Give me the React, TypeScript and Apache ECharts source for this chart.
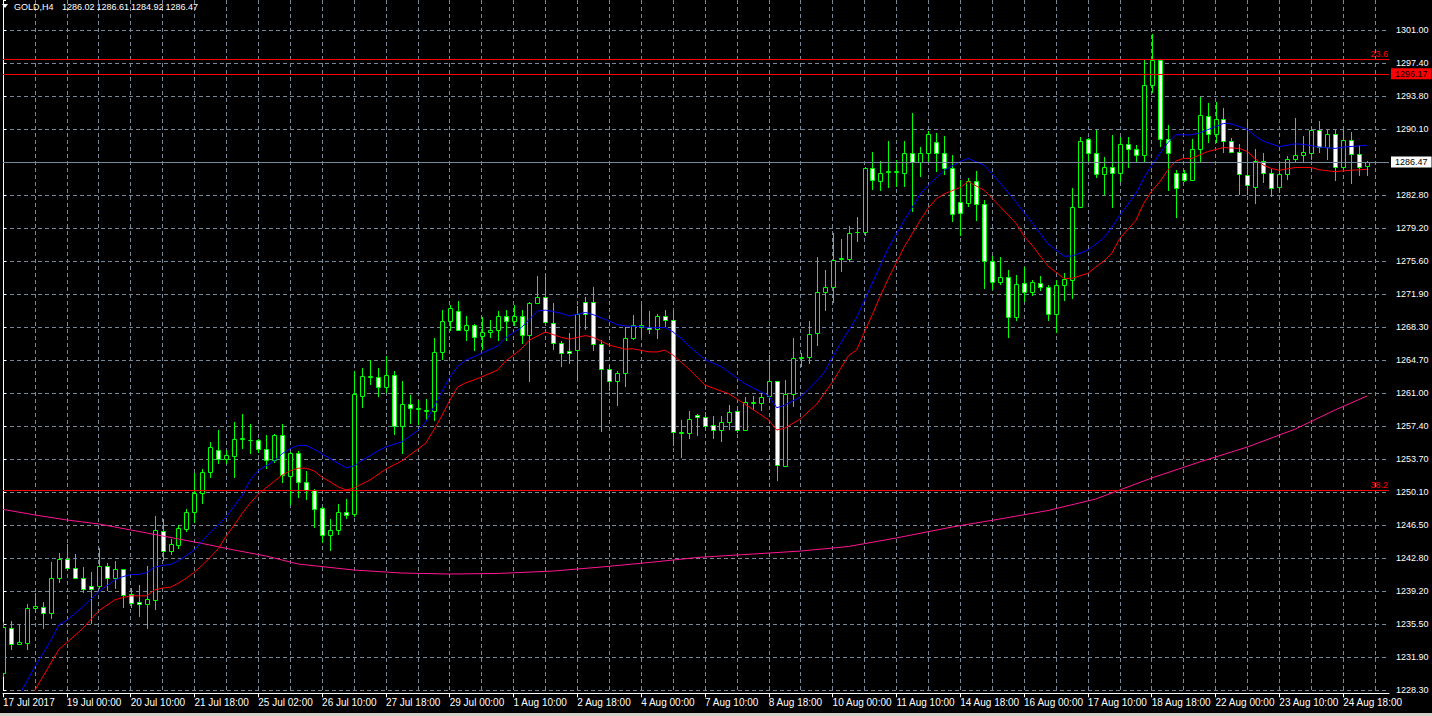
import React, { useEffect, useRef } from 'react';
import * as echarts from 'echarts';

// ---------- header ----------
const symbolName = 'GOLD,H4';
const headerOHLC = ['1286.02', '1286.61', '1284.92', '1286.47'];

// ---------- axes ----------
const xTickLabels = [
  '17 Jul 2017', '19 Jul 00:00', '20 Jul 10:00', '21 Jul 18:00', '25 Jul 02:00', '26 Jul 10:00',
  '27 Jul 18:00', '29 Jul 00:00', '1 Aug 10:00', '2 Aug 18:00', '4 Aug 00:00', '7 Aug 10:00',
  '8 Aug 18:00', '10 Aug 00:00', '11 Aug 10:00', '14 Aug 18:00', '16 Aug 00:00', '17 Aug 10:00',
  '18 Aug 18:00', '22 Aug 00:00', '23 Aug 10:00', '24 Aug 18:00',
];
const yTickLabels = [
  '1228.30', '1231.90', '1235.50', '1239.20', '1242.80', '1246.50', '1250.10', '1253.70',
  '1257.40', '1261.00', '1264.70', '1268.30', '1271.90', '1275.60', '1279.20', '1282.80',
  '1286.50', '1290.10', '1293.80', '1297.40', '1301.00',
];
const yMin = 1228.3;
const yStep = 3.635;
const yMax = 1304.29;
const xMax = 173.75;

// ---------- candles: [open, high, low, close] ----------
const candles: number[][] = [
  [1230.2, 1235.8, 1229.8, 1235.3], [1235.2, 1235.9, 1232.7, 1233.4], [1233.4, 1235.5, 1233.3, 1233.6],
  [1233.5, 1237.8, 1232.7, 1237.4], [1237.4, 1239.0, 1236.8, 1237.6], [1237.5, 1238.0, 1235.1, 1236.8],
  [1236.8, 1242.4, 1236.1, 1240.7], [1240.7, 1243.4, 1240.1, 1242.7], [1242.7, 1244.4, 1241.4, 1241.8],
  [1241.8, 1243.3, 1240.5, 1240.7], [1240.7, 1241.9, 1239.0, 1239.4], [1239.8, 1241.3, 1235.6, 1239.4],
  [1239.8, 1244.0, 1239.4, 1242.0], [1242.0, 1242.3, 1239.2, 1240.7], [1240.7, 1242.5, 1239.5, 1241.6],
  [1241.6, 1241.7, 1237.4, 1238.8], [1238.9, 1239.6, 1237.4, 1237.9], [1238.0, 1239.9, 1236.4, 1237.8],
  [1237.8, 1242.0, 1235.1, 1238.3], [1238.2, 1247.5, 1237.1, 1246.0], [1245.8, 1247.2, 1242.5, 1243.6],
  [1243.6, 1245.0, 1243.2, 1244.4], [1244.3, 1246.5, 1243.9, 1246.2], [1246.1, 1248.3, 1245.7, 1247.9],
  [1247.9, 1252.2, 1246.7, 1250.0], [1250.0, 1252.7, 1248.8, 1252.3], [1252.3, 1255.6, 1251.7, 1255.1],
  [1254.8, 1257.0, 1253.2, 1253.8], [1253.8, 1254.8, 1253.2, 1254.2], [1254.1, 1257.8, 1251.7, 1256.0],
  [1255.95, 1258.7, 1254.9, 1256.05], [1255.8, 1257.6, 1254.3, 1255.9], [1255.8, 1256.0, 1254.4, 1254.9],
  [1254.9, 1256.4, 1252.7, 1253.6], [1253.6, 1256.5, 1253.3, 1256.4], [1256.4, 1257.6, 1251.1, 1252.0],
  [1251.9, 1254.5, 1248.7, 1254.4], [1254.4, 1254.6, 1249.5, 1251.2], [1251.2, 1252.4, 1249.3, 1250.4],
  [1250.4, 1250.5, 1246.2, 1248.3], [1248.4, 1248.5, 1244.5, 1245.4], [1245.4, 1247.2, 1243.6, 1246.0],
  [1245.9, 1248.8, 1245.4, 1247.9], [1247.9, 1249.4, 1247.2, 1247.6], [1247.7, 1263.5, 1247.4, 1260.9],
  [1260.7, 1263.8, 1259.4, 1262.9], [1262.8, 1264.7, 1261.9, 1262.9], [1262.8, 1263.8, 1260.6, 1261.7],
  [1261.7, 1265.1, 1261.0, 1263.0], [1263.0, 1263.5, 1256.4, 1257.4], [1257.4, 1262.4, 1254.3, 1259.8],
  [1259.8, 1260.8, 1257.6, 1259.4], [1259.3, 1260.3, 1257.5, 1259.35], [1259.1, 1260.4, 1257.9, 1259.2],
  [1259.1, 1267.1, 1257.9, 1265.5], [1265.5, 1270.2, 1264.7, 1268.9], [1268.9, 1270.7, 1267.8, 1270.4],
  [1270.0, 1271.2, 1267.9, 1268.0], [1268.0, 1269.5, 1266.8, 1268.5], [1268.5, 1268.6, 1265.6, 1267.2],
  [1267.3, 1269.4, 1265.8, 1267.7], [1267.7, 1269.1, 1267.1, 1268.0], [1268.0, 1270.1, 1266.8, 1269.5],
  [1269.5, 1270.2, 1266.8, 1269.0], [1269.0, 1270.7, 1268.4, 1269.5], [1269.5, 1270.2, 1266.4, 1267.4],
  [1267.4, 1271.0, 1262.2, 1270.9], [1270.9, 1273.9, 1270.8, 1271.6], [1271.6, 1273.9, 1268.8, 1268.8],
  [1268.7, 1270.9, 1265.8, 1266.5], [1266.5, 1266.7, 1263.9, 1265.4], [1265.7, 1267.6, 1264.2, 1265.4],
  [1265.8, 1270.6, 1262.5, 1269.7], [1271.0, 1271.6, 1268.0, 1269.7], [1271.0, 1272.7, 1265.7, 1266.4],
  [1266.4, 1266.9, 1256.7, 1263.7], [1263.7, 1264.1, 1261.2, 1262.3], [1262.4, 1263.5, 1259.6, 1263.2],
  [1263.2, 1268.3, 1261.7, 1267.1], [1267.1, 1269.6, 1266.9, 1268.5], [1268.3, 1270.7, 1267.2, 1268.5],
  [1268.3, 1270.0, 1267.5, 1268.1], [1268.1, 1269.7, 1267.0, 1269.5], [1269.5, 1270.2, 1268.3, 1269.1],
  [1269.1, 1270.0, 1255.2, 1256.7], [1256.6, 1258.1, 1253.9, 1256.7], [1256.6, 1259.0, 1256.0, 1258.2],
  [1258.6, 1258.7, 1256.3, 1258.4], [1258.4, 1258.9, 1257.1, 1257.4], [1257.5, 1258.5, 1256.0, 1256.9],
  [1257.0, 1258.5, 1255.6, 1257.8], [1257.8, 1259.7, 1257.0, 1258.9], [1259.0, 1259.6, 1256.6, 1257.0],
  [1257.0, 1260.6, 1256.8, 1260.0], [1259.9, 1260.7, 1259.2, 1260.0], [1259.9, 1261.0, 1259.0, 1260.6],
  [1260.7, 1265.2, 1259.9, 1262.3], [1262.3, 1262.4, 1251.3, 1253.1], [1253.0, 1262.5, 1253.0, 1260.9],
  [1260.9, 1267.1, 1259.5, 1264.9], [1264.85, 1265.4, 1263.9, 1264.95], [1265.0, 1269.0, 1264.2, 1267.5],
  [1267.6, 1276.0, 1266.2, 1272.1], [1272.1, 1274.6, 1270.1, 1272.7], [1272.7, 1278.6, 1270.9, 1275.7],
  [1275.75, 1278.0, 1274.4, 1275.85], [1275.8, 1279.4, 1275.5, 1278.6], [1278.7, 1280.4, 1277.6, 1278.8],
  [1278.8, 1285.9, 1278.3, 1285.8], [1285.8, 1287.6, 1283.4, 1284.5], [1284.4, 1286.6, 1283.3, 1285.3],
  [1285.35, 1288.8, 1283.6, 1285.45], [1285.35, 1286.7, 1283.7, 1285.45], [1285.3, 1288.8, 1283.7, 1287.4],
  [1287.4, 1291.9, 1281.0, 1286.5], [1286.5, 1288.1, 1284.8, 1287.4], [1287.4, 1289.9, 1286.3, 1289.5],
  [1288.7, 1289.7, 1285.4, 1287.4], [1287.4, 1289.3, 1285.0, 1285.8], [1285.8, 1287.2, 1279.8, 1280.7],
  [1282.0, 1284.5, 1278.3, 1280.8], [1281.9, 1284.7, 1281.5, 1284.4], [1284.4, 1285.5, 1280.0, 1281.8],
  [1281.8, 1282.3, 1272.5, 1275.6], [1275.6, 1276.1, 1272.4, 1273.3], [1273.3, 1276.0, 1272.9, 1273.8],
  [1273.8, 1274.6, 1267.1, 1269.4], [1269.4, 1274.0, 1269.0, 1273.0], [1273.1, 1274.9, 1271.1, 1272.2],
  [1272.2, 1273.5, 1271.7, 1273.2], [1273.1, 1273.9, 1272.3, 1272.7], [1272.7, 1272.9, 1269.0, 1269.7],
  [1269.7, 1273.5, 1267.6, 1272.9], [1272.9, 1274.2, 1271.2, 1273.6], [1273.5, 1283.6, 1271.4, 1281.5],
  [1281.5, 1289.2, 1281.4, 1288.8], [1289.0, 1289.1, 1286.3, 1287.4], [1287.4, 1290.0, 1284.7, 1285.1],
  [1285.1, 1287.0, 1282.8, 1285.9], [1285.9, 1289.4, 1281.4, 1285.2], [1285.2, 1289.2, 1284.2, 1288.4],
  [1288.4, 1289.2, 1285.8, 1287.9], [1287.9, 1288.3, 1286.3, 1287.2], [1287.2, 1297.8, 1286.5, 1294.9],
  [1294.9, 1300.5, 1294.0, 1297.7], [1297.7, 1297.8, 1288.1, 1289.0], [1289.0, 1290.5, 1283.3, 1287.5],
  [1285.3, 1285.6, 1280.3, 1283.6], [1285.3, 1285.6, 1284.2, 1284.5], [1284.5, 1289.0, 1284.4, 1287.9],
  [1287.9, 1293.6, 1286.4, 1291.6], [1291.5, 1293.0, 1288.5, 1289.5], [1289.5, 1293.1, 1288.5, 1291.2],
  [1291.2, 1292.4, 1287.4, 1288.8], [1288.8, 1289.1, 1287.5, 1287.6], [1287.6, 1288.4, 1282.8, 1285.1],
  [1285.0, 1290.7, 1282.8, 1283.9], [1283.7, 1287.9, 1281.8, 1286.6], [1286.6, 1287.5, 1284.1, 1285.2],
  [1285.3, 1285.7, 1282.6, 1283.6], [1283.7, 1286.6, 1283.0, 1285.1], [1285.1, 1287.1, 1284.5, 1286.8],
  [1286.8, 1291.3, 1286.3, 1287.2], [1287.2, 1289.3, 1286.5, 1287.6], [1287.5, 1290.3, 1286.7, 1290.0],
  [1290.0, 1291.0, 1287.4, 1288.1], [1288.1, 1290.0, 1286.7, 1289.5], [1289.5, 1290.0, 1284.4, 1285.9],
  [1285.9, 1290.0, 1285.4, 1288.9], [1288.9, 1289.8, 1284.0, 1287.3], [1287.3, 1288.3, 1284.9, 1285.9],
  [1286.02, 1286.61, 1284.92, 1286.47],
];

// ---------- moving averages: [bar index, price] ----------
const maBlue: number[][] = [
  [2, 1227.7], [4, 1230.9], [6, 1233.8], [7, 1235.5], [8, 1236.0], [10, 1237.5], [12, 1239.15], [13, 1239.8],
  [14, 1240.45], [15, 1240.8], [16, 1241.05], [17, 1241.05], [18, 1241.25], [19, 1241.85], [20, 1242.05],
  [21, 1242.15], [22, 1242.55], [24, 1243.75], [25, 1244.75], [26, 1245.7], [28, 1247.4], [30, 1249.8],
  [31, 1251.45], [32, 1252.5], [34, 1253.55], [35, 1254.35], [36, 1254.9], [37, 1255.25], [38, 1255.25],
  [39, 1254.85], [41, 1253.8], [42, 1253.3], [43, 1252.8], [44, 1253.0], [45, 1253.6], [47, 1254.65],
  [48, 1255.1], [50, 1255.65], [52, 1256.9], [53, 1257.85], [54, 1259.5], [56, 1262.75], [57, 1263.95],
  [58, 1264.65], [59, 1265.0], [60, 1265.4], [62, 1266.2], [63, 1267.1], [65, 1268.25], [66, 1269.15],
  [67, 1270.05], [68, 1270.15], [70, 1269.8], [71, 1269.5], [72, 1269.7], [73, 1269.9], [74, 1269.65],
  [75, 1269.3], [76, 1268.95], [77, 1268.55], [78, 1268.4], [80, 1268.35], [81, 1268.2], [83, 1268.25],
  [84, 1267.75], [85, 1267.05], [86, 1266.2], [88, 1264.7], [90, 1263.95], [92, 1262.7], [93, 1262.05],
  [94, 1261.6], [96, 1260.7], [97, 1259.4], [98, 1259.7], [100, 1260.6], [102, 1262.35], [103, 1263.35],
  [104, 1265.0], [105, 1266.5], [107, 1269.3], [108, 1271.25], [110, 1275.1], [111, 1277.0], [113, 1280.05],
  [115, 1282.95], [116, 1283.9], [118, 1285.55], [120, 1286.5], [121, 1286.85], [123, 1286.1], [125, 1284.15],
  [127, 1282.05], [128, 1280.9], [129, 1279.8], [131, 1277.45], [133, 1276.1], [134, 1276.1], [136, 1276.75],
  [138, 1278.1], [139, 1279.25], [140, 1280.6], [142, 1282.95], [143, 1284.65], [144, 1286.1], [145, 1287.35],
  [146, 1288.55], [147, 1289.45], [149, 1289.45], [150, 1289.65], [151, 1290.0], [153, 1290.7], [154, 1290.65],
  [156, 1290.05], [157, 1289.3], [158, 1288.75], [159, 1288.45], [160, 1288.15], [162, 1288.45], [163, 1288.4],
  [165, 1288.1], [167, 1287.95], [168, 1288.1], [171, 1288.3],
];
const maRed: number[][] = [
  [3, 1226.8], [4, 1228.3], [6, 1231.3], [7, 1232.8], [8, 1233.55], [10, 1235.1], [12, 1237.05], [14, 1238.25],
  [15, 1238.5], [16, 1238.7], [18, 1238.7], [19, 1239.35], [20, 1239.55], [21, 1239.65], [22, 1240.1],
  [23, 1240.65], [24, 1241.3], [25, 1242.1], [26, 1242.95], [27, 1243.9], [28, 1245.3], [29, 1246.5],
  [30, 1247.8], [31, 1248.9], [32, 1249.9], [34, 1251.3], [35, 1252.0], [36, 1252.45], [37, 1252.75],
  [38, 1252.75], [39, 1252.45], [40, 1251.75], [41, 1251.25], [42, 1250.7], [43, 1250.35], [44, 1250.55],
  [45, 1251.0], [46, 1251.45], [47, 1252.05], [48, 1252.65], [50, 1253.55], [53, 1255.5], [54, 1256.95],
  [55, 1258.5], [56, 1260.2], [57, 1261.7], [58, 1262.15], [59, 1262.45], [60, 1262.8], [62, 1263.55],
  [63, 1264.55], [64, 1265.2], [65, 1265.9], [66, 1266.85], [68, 1267.75], [70, 1267.15], [71, 1266.95],
  [73, 1267.35], [74, 1267.15], [76, 1266.3], [78, 1265.85], [79, 1265.9], [81, 1265.55], [82, 1265.55],
  [83, 1265.75], [84, 1265.2], [85, 1264.45], [86, 1263.65], [88, 1261.9], [90, 1261.25], [91, 1260.95],
  [93, 1259.8], [96, 1258.05], [97, 1256.95], [98, 1257.15], [100, 1258.2], [102, 1259.8], [104, 1262.25],
  [106, 1265.15], [107, 1265.75], [108, 1267.75], [109, 1269.7], [110, 1271.75], [111, 1273.65], [113, 1277.15],
  [115, 1280.05], [116, 1281.4], [117, 1282.4], [118, 1282.95], [120, 1283.65], [121, 1284.3], [123, 1283.35],
  [125, 1281.55], [127, 1279.7], [128, 1278.3], [129, 1277.3], [131, 1275.0], [133, 1273.65], [134, 1273.65],
  [136, 1274.2], [137, 1274.9], [138, 1275.55], [139, 1276.4], [140, 1278.05], [142, 1280.0], [143, 1281.9],
  [144, 1283.25], [145, 1284.25], [146, 1285.55], [147, 1286.55], [148, 1286.85], [149, 1286.85], [151, 1287.6],
  [153, 1288.05], [155, 1287.95], [156, 1287.6], [157, 1286.8], [158, 1286.1], [159, 1285.75], [160, 1285.55],
  [162, 1285.85], [164, 1285.85], [165, 1285.6], [167, 1285.4], [169, 1285.55], [171, 1285.65],
];
const maPink: number[][] = [
  [0, 1248.22], [4, 1247.6], [8, 1247.05], [12, 1246.61], [16, 1245.95], [20, 1245.29], [25, 1244.46],
  [29, 1243.74], [33, 1243.08], [37, 1242.2], [44, 1241.54], [50, 1241.21], [56, 1241.1], [62, 1241.16],
  [69, 1241.43], [75, 1241.87], [81, 1242.37], [87, 1242.92], [94, 1243.3], [100, 1243.63], [106, 1244.13],
  [112, 1245.07], [119, 1246.28], [125, 1247.16], [131, 1248.09], [137, 1249.36], [140, 1250.35],
  [144, 1251.67], [150, 1253.43], [156, 1255.08], [162, 1257.06], [167, 1259.16], [171, 1260.7],
];

// ---------- horizontal levels ----------
const bidPrice = 1286.47;
const hLinePrice = 1296.17;
const fibLevels = [
  { label: '23.6', price: 1297.76 },
  { label: '38.2', price: 1250.32 },
];

const FONT = '"Liberation Sans", Arial, sans-serif';
const GRID_COLOR = '#778899';
const CANDLE_GREEN = '#00ff00';

export default function App() {
  const ref = useRef<HTMLDivElement>(null);

  useEffect(() => {
    if (!ref.current) return;
    const chart = echarts.init(ref.current, undefined, { renderer: 'svg' });

    const candleData = candles.map((c, i) => [i, c[0], c[1], c[2], c[3]]);

    const renderCandle = (params: any, api: any) => {
      const i = api.value(0);
      const o = api.value(1);
      const h = api.value(2);
      const l = api.value(3);
      const c = api.value(4);
      const pO = api.coord([i, o]);
      const pC = api.coord([i, c]);
      const pH = api.coord([i, h]);
      const pL = api.coord([i, l]);
      const x = Math.round(pO[0]) + 0.5;
      const top = Math.round(Math.min(pO[1], pC[1])) + 0.5;
      const bot = Math.round(Math.max(pO[1], pC[1])) + 0.5;
      const bull = c >= o;
      return {
        type: 'group',
        children: [
          {
            type: 'line',
            shape: { x1: x, y1: Math.round(pH[1]), x2: x, y2: Math.round(pL[1]) },
            style: { stroke: CANDLE_GREEN, lineWidth: 1 },
          },
          {
            type: 'rect',
            shape: { x: x - 2, y: top, width: 4, height: Math.max(bot - top, 0) },
            style: { fill: bull ? '#000000' : '#ffffff', stroke: CANDLE_GREEN, lineWidth: 1 },
          },
        ],
      };
    };

    const yLabelFormatter = (v: number) => {
      const k = (v - yMin) / yStep;
      const r = Math.round(k);
      if (Math.abs(k - r) > 0.01 || r < 0 || r >= yTickLabels.length) return '';
      if (r === 16) return ''; // covered by the bid price box
      return yTickLabels[r];
    };
    const xLabelFormatter = (v: number) => {
      const k = v / 8;
      const r = Math.round(k);
      if (Math.abs(k - r) > 0.01 || r < 0 || r >= xTickLabels.length) return '';
      return xTickLabels[r];
    };

    const redLine = { color: '#ff0000', width: 1, type: 'solid' };

    const option: any = {
      animation: false,
      backgroundColor: '#000000',
      grid: { left: -1, right: 43, top: 0, bottom: 25.7, containLabel: false },
      xAxis: [
        {
          type: 'value',
          min: 0,
          max: xMax,
          interval: 4,
          axisLine: { show: false },
          axisTick: { show: false },
          axisLabel: { show: false },
          splitLine: {
            show: true,
            showMinLine: false,
            showMaxLine: false,
            lineStyle: { color: GRID_COLOR, width: 1, type: [4, 3] },
          },
        },
        {
          type: 'value',
          min: 0,
          max: xMax,
          interval: 8,
          position: 'bottom',
          offset: 3,
          axisLine: { show: true, lineStyle: { color: '#ffffff', width: 1 } },
          axisTick: {
            show: true,
            length: 4,
            lineStyle: { color: '#ffffff' },
            customValues: xTickLabels.map((_, k) => k * 8),
          },
          axisLabel: {
            show: true,
            color: '#ffffff',
            fontSize: 10,
            fontFamily: FONT,
            align: 'left',
            margin: 4,
            formatter: xLabelFormatter,
          },
          splitLine: { show: false },
        },
      ],
      yAxis: {
        type: 'value',
        position: 'right',
        min: yMin,
        max: yMax,
        interval: yStep,
        axisLine: { show: true, lineStyle: { color: '#ffffff', width: 1 } },
        axisTick: { show: true, length: 3, lineStyle: { color: '#ffffff' } },
        axisLabel: {
          color: '#ffffff',
          fontSize: 9,
          fontFamily: FONT,
          margin: 7,
          formatter: yLabelFormatter,
        },
        splitLine: {
          show: true,
          showMaxLine: false,
          lineStyle: { color: GRID_COLOR, width: 1, type: [4, 3] },
        },
      },
      series: [
        {
          type: 'custom',
          name: 'GOLD',
          xAxisIndex: 0,
          renderItem: renderCandle,
          data: candleData,
          encode: { x: 0, y: [1, 2, 3, 4] },
          clip: true,
          z: 2,
        },
        {
          type: 'line',
          name: 'MA long',
          xAxisIndex: 0,
          data: maPink,
          showSymbol: false,
          symbol: 'none',
          lineStyle: { color: '#ff1493', width: 1 },
          clip: true,
          z: 3,
          markLine: {
            silent: true,
            symbol: ['none', 'none'],
            animation: false,
            data: [
              {
                yAxis: bidPrice,
                lineStyle: { color: GRID_COLOR, width: 1, type: 'solid' },
                label: {
                  show: true,
                  position: 'end',
                  formatter: bidPrice.toFixed(2),
                  color: '#000000',
                  backgroundColor: '#ffffff',
                  padding: [1, 4, 1, 4],
                  distance: 2,
                  fontSize: 9,
                  fontFamily: FONT,
                },
              },
              {
                yAxis: hLinePrice,
                lineStyle: redLine,
                label: {
                  show: true,
                  position: 'end',
                  formatter: hLinePrice.toFixed(2),
                  color: '#000000',
                  backgroundColor: '#ff0000',
                  padding: [1, 4, 1, 4],
                  distance: 2,
                  fontSize: 9,
                  fontFamily: FONT,
                },
              },
              ...fibLevels.map((f) => ({
                yAxis: f.price,
                lineStyle: redLine,
                label: {
                  show: true,
                  position: 'insideEndTop',
                  formatter: f.label,
                  color: '#ff0000',
                  distance: 1,
                  fontSize: 9,
                  fontFamily: FONT,
                },
              })),
            ],
          },
        },
        {
          type: 'line',
          name: 'MA slow',
          xAxisIndex: 0,
          data: maRed,
          showSymbol: false,
          symbol: 'none',
          lineStyle: { color: '#ff0000', width: 1 },
          clip: true,
          z: 3,
        },
        {
          type: 'line',
          name: 'MA fast',
          xAxisIndex: 0,
          data: maBlue,
          showSymbol: false,
          symbol: 'none',
          lineStyle: { color: '#0000ff', width: 1 },
          clip: true,
          z: 3,
        },
      ],
      graphic: [
        {
          type: 'polygon',
          shape: { points: [[2, 4], [8, 4], [5, 8]] },
          style: { fill: '#ffffff' },
          z: 10,
        },
        {
          type: 'text',
          x: 14,
          y: 7,
          style: { text: symbolName, fill: '#ffffff', fontSize: 9, fontFamily: FONT, verticalAlign: 'middle' },
          z: 10,
        },
        ...headerOHLC.map((t, k) => ({
          type: 'text',
          x: 62 + k * 34.5,
          y: 7,
          style: { text: t, fill: '#ffffff', fontSize: 9, fontFamily: FONT, verticalAlign: 'middle' },
          z: 10,
        })),
        {
          type: 'rect',
          shape: { x: 0, y: 713, width: 1432, height: 3 },
          style: { fill: '#d4d0c8' },
          z: 10,
        },
      ],
    };

    chart.setOption(option);
    return () => chart.dispose();
  }, []);

  return (
    <div
      ref={ref}
      style={{ position: 'fixed', left: 0, top: 0, width: 1432, height: 716, background: '#000' }}
    />
  );
}
